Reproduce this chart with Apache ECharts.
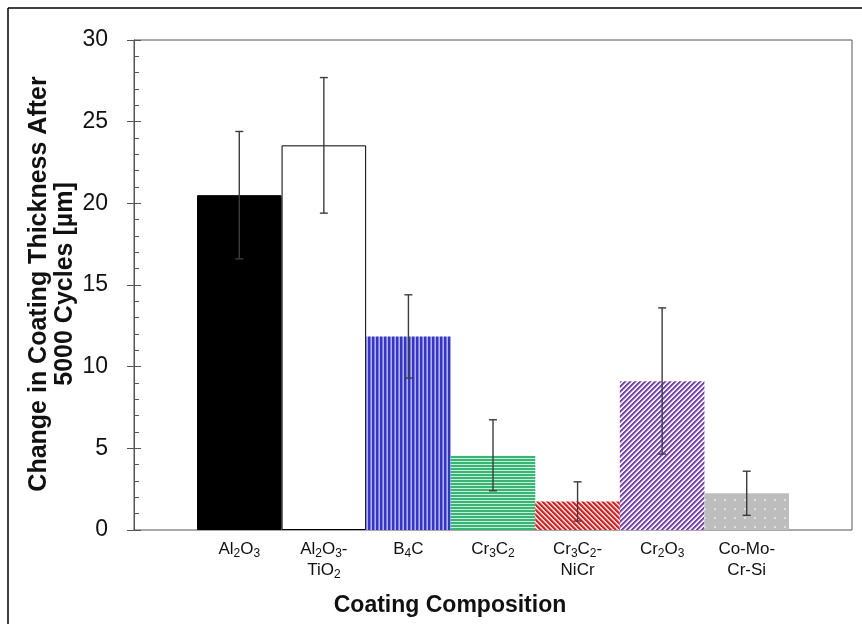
<!DOCTYPE html>
<html lang="en">
<head>
    <meta charset="UTF-8">
    <title>Coating thickness</title>
    <style>
        html,body{margin:0;padding:0;background:#fff;}
        #mychart{width:862px;height:624px;}
    </style>
</head>
<body>
    <div id="mychart"></div>
    <script src="https://cdn.jsdelivr.net/npm/echarts@6/dist/echarts.min.js"></script>
    <script>
        // data
        var categories=['Al2O3','Al2O3-TiO2','B4C','Cr3C2','Cr3C2-NiCr','Cr2O3','Co-Mo-Cr-Si']
        var tickLabels=[
            '{n|Al}{s|2}{n|O}{s|3}',
            '{n|Al}{s|2}{n|O}{s|3}{n|-}\n{n|TiO}{s|2}',
            '{n|B}{s|4}{n|C}',
            '{n|Cr}{s|3}{n|C}{s|2}',
            '{n|Cr}{s|3}{n|C}{s|2}{n|-}\n{n|NiCr}',
            '{n|Cr}{s|2}{n|O}{s|3}',
            '{n|Co-Mo-}\n{n|Cr-Si}'
        ]
        var thickness=[20.5,23.55,11.85,4.55,1.75,9.1,2.25]
        var errLow=[16.6,19.4,9.3,2.4,0.55,4.65,0.9]
        var errHigh=[24.4,27.7,14.4,6.75,2.95,13.6,3.6]

        // fill patterns for the bars
        function tile(w,h,fn){
            var c=document.createElement('canvas')
            c.width=w;c.height=h
            var ctx=c.getContext('2d')
            for(var y=0;y<h;y++){
                for(var x=0;x<w;x++){
                    ctx.fillStyle=fn(x,y)
                    ctx.fillRect(x,y,1,1)
                }
            }
            return {image:c,repeat:'repeat'}
        }
        var fills=[
            '#000000',
            '#ffffff',
            tile(4,1,function(x){return x<2?'#3434cc':(x==2?'#7c7ce6':'#b4b4f4')}),
            tile(1,3,function(x,y){return y<2?'#38b474':'#c6eed8'}),
            tile(5,5,function(x,y){var k=(x-y+10)%5;return k<2?'#e41c1c':(k==2?'#ee5050':'#fcd8d8')}),
            tile(5,5,function(x,y){var k=(x+y)%5;return k<2?'#7446b4':(k==2?'#a888d4':'#f2ecfa')}),
            tile(10,9,function(x,y){return (x>=4&&x<6&&y>=4&&y<6)?'#e0e0e0':'#bdbdbd'})
        ]

        var myChart=echarts.init(document.getElementById('mychart'))
        var barData=thickness.map(function(v,i){
            return {value:v,itemStyle:{color:fills[i],borderColor:i<2?'#000':'transparent',borderWidth:i<2?1:0}}
        })
        var errData=categories.map(function(c,i){return [i,errLow[i],errHigh[i]]})

        var option={
            animation:false,
            backgroundColor:'#fff',
            grid:[
                {left:134,top:40,width:718,height:490,show:true,borderColor:'#555',borderWidth:1,backgroundColor:'transparent'},
                {left:197,top:40,width:592,height:490}
            ],
            xAxis:[
                {gridIndex:0,type:'value',min:0,max:1,show:false},
                {gridIndex:1,type:'category',data:categories,
                    axisLine:{show:false},axisTick:{show:false},
                    axisLabel:{
                        margin:9,interval:0,
                        formatter:function(v,i){return tickLabels[i]},
                        rich:{
                            n:{fontFamily:'Liberation Sans',fontSize:17,color:'#111',lineHeight:21},
                            s:{fontFamily:'Liberation Sans',fontSize:12,color:'#111',lineHeight:21,padding:[9,0,0,0]}
                        }
                    }
                }
            ],
            yAxis:[
                {gridIndex:0,type:'value',min:0,max:30,interval:5,position:'left',
                    axisLine:{show:true,lineStyle:{color:'#555',width:1}},
                    axisTick:{show:true,inside:true,length:7,lineStyle:{color:'#555'}},
                    minorTick:{show:true,splitNumber:5,length:5,lineStyle:{color:'#555'}},
                    splitLine:{show:false},
                    axisLabel:{margin:26,fontFamily:'Liberation Sans',fontSize:23,color:'#111'}
                },
                {gridIndex:0,type:'value',min:0,max:30,interval:5,position:'left',offset:0,
                    axisLine:{show:false},
                    axisTick:{show:true,inside:false,length:7,lineStyle:{color:'#555'}},
                    splitLine:{show:false},axisLabel:{show:false}
                },
                {gridIndex:1,type:'value',min:0,max:30,show:false}
            ],
            series:[
                {type:'bar',xAxisIndex:1,yAxisIndex:2,data:barData,barWidth:'100%',barCategoryGap:0},
                {type:'custom',xAxisIndex:1,yAxisIndex:2,data:errData,z:5,
                    renderItem:function(params,api){
                        var lo=api.coord([api.value(0),api.value(1)])
                        var hi=api.coord([api.value(0),api.value(2)])
                        var st={stroke:'#3c3c3c',lineWidth:1.4}
                        return {type:'group',children:[
                            {type:'line',shape:{x1:lo[0],y1:lo[1],x2:hi[0],y2:hi[1]},style:st},
                            {type:'line',shape:{x1:lo[0]-4,y1:lo[1],x2:lo[0]+4,y2:lo[1]},style:st},
                            {type:'line',shape:{x1:hi[0]-4,y1:hi[1],x2:hi[0]+4,y2:hi[1]},style:st}
                        ]}
                    }
                }
            ],
            graphic:[
                {type:'line',shape:{x1:8,y1:8,x2:8,y2:624},style:{stroke:'#000',lineWidth:1.5}},
                {type:'line',shape:{x1:8,y1:8,x2:862,y2:8},style:{stroke:'#000',lineWidth:1.5}},
                {type:'text',x:52,y:284,rotation:Math.PI/2,
                    style:{text:'Change in Coating Thickness After\n5000 Cycles [µm]',
                        fontFamily:'Liberation Sans',fontWeight:'bold',fontSize:25,lineHeight:26,
                        fill:'#111',align:'center',verticalAlign:'middle'}},
                {type:'text',x:450,y:606,
                    style:{text:'Coating Composition',fontFamily:'Liberation Sans',fontWeight:'bold',
                        fontSize:23,fill:'#111',align:'center',verticalAlign:'middle'}}
            ]
        }
        myChart.setOption(option)
    </script>
</body>
</html>
